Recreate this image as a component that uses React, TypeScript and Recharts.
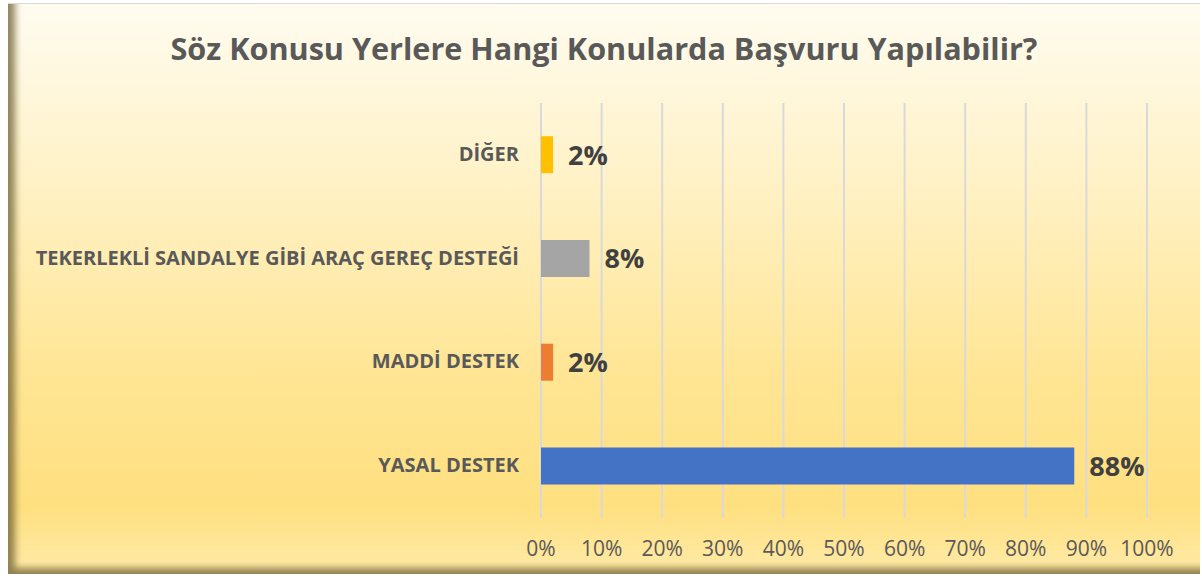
import { BarChart, Bar, XAxis, YAxis, CartesianGrid, Cell, LabelList } from 'recharts';

const categories = ['DİĞER', 'TEKERLEKLİ SANDALYE GİBİ ARAÇ GEREÇ DESTEĞİ', 'MADDİ DESTEK', 'YASAL DESTEK'];
const values = [2, 8, 2, 88];
const barColors = ['#FFC000', '#A5A5A5', '#ED7D31', '#4472C4'];
const xTicks = [0, 10, 20, 30, 40, 50, 60, 70, 80, 90, 100];

const data = categories.map((name, i) => ({ name, value: values[i] }));

const FONT = '"Open Sans", Lato, sans-serif';

function CategoryTick(props: any) {
    const { x, y, payload } = props;
    return (
        <text x={x - 14} y={y} dy={6} textAnchor="end" fontFamily={FONT} fontWeight={700} fontSize={20} fill="#595959">
            {payload.value}
        </text>
    );
}

function PercentTick(props: any) {
    const { x, y, payload } = props;
    return (
        <text x={x} y={y} dy={30} textAnchor="middle" fontFamily={FONT} fontSize={21} fill="#595959">
            {payload.value + '%'}
        </text>
    );
}

function ValueLabel(props: any) {
    const { x, y, width, height, value } = props;
    return (
        <text x={x + width + 15} y={y + height / 2} dy={10} fontFamily={FONT} fontWeight={700} fontSize={27} fill="#404040">
            {value + '%'}
        </text>
    );
}

export default function App() {
    return (
        <div style={{ position: 'fixed', left: 0, top: 0, width: 1202, height: 578, background: '#fff' }}>
            <div
                style={{
                    position: 'absolute',
                    left: 8,
                    top: 3,
                    width: 1192,
                    height: 570,
                    background: 'linear-gradient(to bottom, #FFFCF0 0%, #FFF2C8 30%, #FFE594 65%, #FFE080 88%, #FFEAA8 100%)',
                    boxShadow: 'inset 8px -7px 7px -1px rgba(110, 95, 50, 0.75)',
                    borderTop: '1px solid #d9d9d9',
                }}
            >
                <div
                    style={{
                        position: 'absolute',
                        left: 0,
                        top: 23,
                        width: 1192,
                        textAlign: 'center',
                        fontFamily: FONT,
                        fontWeight: 700,
                        fontSize: 30.6,
                        color: '#595959',
                    }}
                >
                    Söz Konusu Yerlere Hangi Konularda Başvuru Yapılabilir?
                </div>
                <div style={{ position: 'absolute', left: 0, top: 0 }}>
                    <BarChart
                        width={1192}
                        height={570}
                        data={data}
                        layout="vertical"
                        margin={{ top: 99, right: 53, bottom: 0, left: 0 }}
                        barCategoryGap="32%"
                    >
                        <CartesianGrid horizontal={false} stroke="#D9D9D9" strokeWidth={2} />
                        <XAxis
                            type="number"
                            domain={[0, 100]}
                            ticks={xTicks}
                            axisLine={false}
                            tickLine={false}
                            height={56}
                            tick={<PercentTick />}
                            interval={0}
                        />
                        <YAxis
                            type="category"
                            dataKey="name"
                            width={533}
                            axisLine={false}
                            tickLine={false}
                            tick={<CategoryTick />}
                            interval={0}
                        />
                        <Bar dataKey="value" isAnimationActive={false}>
                            {data.map((d, i) => (
                                <Cell key={d.name} fill={barColors[i]} />
                            ))}
                            <LabelList dataKey="value" content={<ValueLabel />} />
                        </Bar>
                    </BarChart>
                </div>
            </div>
        </div>
    );
}
